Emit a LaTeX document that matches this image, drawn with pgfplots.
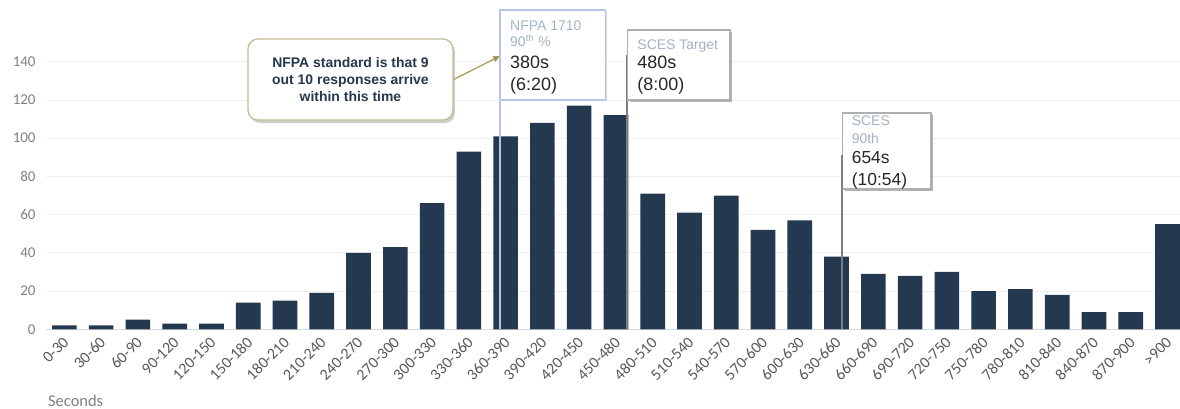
\documentclass[border=0pt]{standalone}
\usepackage{fontspec}
\setmainfont{Liberation Sans}
\newfontfamily\axfont{Carlito}
\usepackage{pgfplots}
\pgfplotsset{compat=1.18}
\usetikzlibrary{shadows,arrows.meta}
\definecolor{barc}{RGB}{36,56,80}
\definecolor{gridc}{RGB}{240,240,240}
\definecolor{basec}{RGB}{217,217,217}
\definecolor{xtickc}{RGB}{89,89,89}
\definecolor{ytickc}{RGB}{127,127,127}
\definecolor{navy}{RGB}{38,55,80}
\definecolor{olive}{RGB}{196,189,151}
\definecolor{olivearrow}{RGB}{165,155,85}
\definecolor{lblue}{RGB}{180,199,231}
\definecolor{gbtext}{RGB}{165,178,198}
\definecolor{blk}{RGB}{38,38,38}
\definecolor{lineg}{RGB}{125,125,125}
\definecolor{boxg}{RGB}{175,175,175}
\begin{document}
\begin{tikzpicture}
\path[use as bounding box] (0,0) rectangle (1180bp,409bp);
\begin{axis}[
  at={(46bp,79.7bp)}, anchor=south west,
  scale only axis, width=1134bp, height=329.3bp,
  xmin=-0.5, xmax=30.34, ymin=0, ymax=172.3,
  clip=false,
  axis line style={draw=none},
  major tick length=0,
  ymajorgrids, grid style={gridc, line width=0.8bp},
  ytick={0,20,...,140},
  yticklabel style={font=\axfont\fontsize{15}{15}\selectfont, text=ytickc, anchor=east, xshift=-7bp},
  /pgf/number format/assume math mode=true,
  xtick={0,...,30},
  xticklabels={0-30,30-60,60-90,90-120,120-150,150-180,180-210,210-240,240-270,270-300,300-330,330-360,360-390,390-420,420-450,450-480,480-510,510-540,540-570,570-600,600-630,630-660,660-690,690-720,720-750,750-780,780-810,810-840,840-870,870-900,>900},
  xticklabel style={xshift=4bp, yshift=-8bp, font=\axfont\fontsize{16}{16}\selectfont, text=xtickc, rotate=45, anchor=east},
]
\draw[basec, line width=1bp] (axis cs:-0.5,0) -- (axis cs:30.34,0);
\addplot[ybar, bar width=0.67, fill=barc, draw=none] coordinates {
(0,2)(1,2)(2,5)(3,3)(4,3)(5,14)(6,15)(7,19)(8,40)(9,43)(10,66)(11,93)(12,101)(13,108)(14,117)(15,112)(16,71)(17,61)(18,70)(19,52)(20,57)(21,38)(22,29)(23,28)(24,30)(25,20)(26,21)(27,18)(28,9)(29,9)(30,55)};
% reference lines
\draw[lblue, line width=2bp] (axis cs:11.86,120) -- (axis cs:11.86,0);
\draw[lineg, line width=2bp] (axis cs:15.29,143.5) -- (axis cs:15.29,0);
\draw[lineg, line width=2bp] (axis cs:21.14,91.2) -- (axis cs:21.14,0);
% callout
\node[draw=olive, line width=1.3bp, rounded corners=10bp, fill=white,
  drop shadow={shadow xshift=2bp, shadow yshift=-3bp, opacity=0.2, fill=black},
  minimum width=205bp, minimum height=81bp, inner sep=0pt, align=center,
  text=navy, font=\bfseries\fontsize{14}{17}\selectfont] (call) at (axis cs:7.78,130.7)
  {NFPA standard is that 9\\out 10 responses arrive\\within this time};
\draw[olivearrow, line width=1.2bp, -{Triangle[length=7bp,width=6bp]}] (call.east) -- (axis cs:11.85,143);
% NFPA box
\draw[lblue, line width=1.5bp, fill=white, drop shadow={shadow xshift=1.5bp, shadow yshift=-1.5bp, opacity=0.15, fill=black}] (axis cs:11.847,167.1) rectangle (axis cs:14.722,120);
\node[anchor=base west, inner sep=0pt, text=gbtext, font=\fontsize{14}{14}\selectfont] at (axis cs:12.12,156.6) {NFPA 1710};
\node[anchor=base west, inner sep=0pt, text=gbtext, font=\fontsize{14}{14}\selectfont] at (axis cs:12.12,147.9) {90\textsuperscript{th} \%};
\node[anchor=base west, inner sep=0pt, text=blk, font=\fontsize{18}{18}\selectfont] at (axis cs:12.12,136.2) {380s};
\node[anchor=base west, inner sep=0pt, text=blk, font=\fontsize{18}{18}\selectfont] at (axis cs:12.12,125.2) {(6:20)};
% SCES Target box
\draw[boxg, line width=1.5bp, fill=white, drop shadow={shadow xshift=2bp, shadow yshift=-2bp, opacity=0.3, fill=black}] (axis cs:15.32,156.6) rectangle (axis cs:18.10,120);
\node[anchor=base west, inner sep=0pt, text=gbtext, font=\fontsize{14}{14}\selectfont] at (axis cs:15.58,146.5) {SCES Target};
\node[anchor=base west, inner sep=0pt, text=blk, font=\fontsize{18}{18}\selectfont] at (axis cs:15.58,136.2) {480s};
\node[anchor=base west, inner sep=0pt, text=blk, font=\fontsize{18}{18}\selectfont] at (axis cs:15.58,125.0) {(8:00)};
% SCES 90th box
\draw[boxg, line width=1.5bp, fill=white, drop shadow={shadow xshift=2bp, shadow yshift=-2bp, opacity=0.3, fill=black}] (axis cs:21.167,113.2) rectangle (axis cs:23.569,73.4);
\draw[lineg, line width=2bp] (axis cs:21.14,91.2) -- (axis cs:21.14,73.4);
\node[anchor=base west, inner sep=0pt, text=gbtext, font=\fontsize{14}{14}\selectfont] at (axis cs:21.41,106.4) {SCES};
\node[anchor=base west, inner sep=0pt, text=gbtext, font=\fontsize{14}{14}\selectfont] at (axis cs:21.41,97.3) {90th};
\node[anchor=base west, inner sep=0pt, text=blk, font=\fontsize{17.5}{17.5}\selectfont] at (axis cs:21.41,86.5) {654s};
\node[anchor=base west, inner sep=0pt, text=blk, font=\fontsize{17.5}{17.5}\selectfont] at (axis cs:21.41,75.1) {(10:54)};
% axis title
\node[anchor=west, inner sep=0pt, text=ytickc, font=\axfont\fontsize{16.5}{16.5}\selectfont] at ([xshift=2bp,yshift=-71.4bp]rel axis cs:0,0) {Seconds};
\end{axis}
\end{tikzpicture}
\end{document}
